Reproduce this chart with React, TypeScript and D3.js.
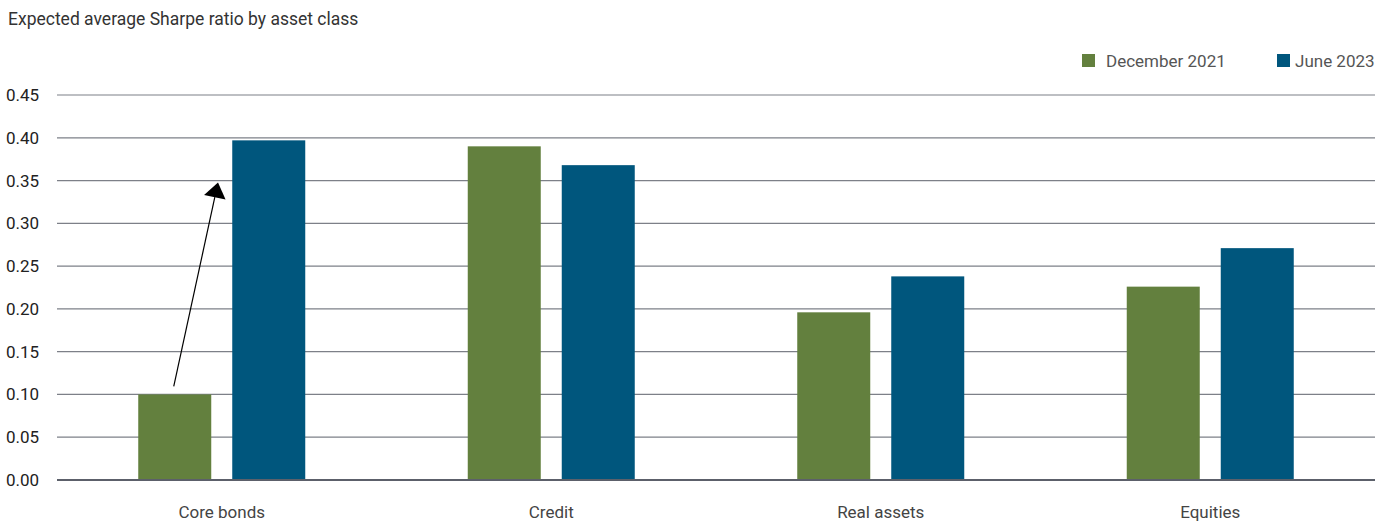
import React from "react";
import * as d3 from "d3";

const categories = ["Core bonds", "Credit", "Real assets", "Equities"];
const seriesNames = ["December 2021", "June 2023"];
const dec2021 = [0.1, 0.39, 0.196, 0.226];
const jun2023 = [0.397, 0.368, 0.238, 0.271];
const yTicks = [0, 0.05, 0.1, 0.15, 0.2, 0.25, 0.3, 0.35, 0.4, 0.45];
const colors = ["#63803e", "#00567d"];

const W = 1392;
const H = 524;
const FONT = "Roboto, 'Noto Sans', sans-serif";

export default function App() {
  const left = 57;
  const right = 1375;
  const x = d3.scaleBand<string>().domain(categories).range([left, right]).padding(0);
  const y = d3.scaleLinear().domain([0, 0.45]).range([480, 95]);
  const barW = 73;
  const gap = 21;
  const series = [dec2021, jun2023];

  // Arrow from top of Dec-2021 core bonds bar toward June 2023 bar
  const cx0 = x(categories[0])! + x.bandwidth() / 2;
  const ax1 = cx0 - gap / 2 - barW / 2 - 1;
  const ay1 = y(dec2021[0]) - 8;
  const ax2 = 218;
  const ay2 = y(0.35) + 2;
  const ang = Math.atan2(ay2 - ay1, ax2 - ax1);
  const hl = 15;
  const hw = 11;
  const bx = ax2 - hl * Math.cos(ang);
  const by = ay2 - hl * Math.sin(ang);
  const px = -Math.sin(ang);
  const py = Math.cos(ang);
  const headPath = `M${ax2},${ay2} L${bx + hw * px},${by + hw * py} L${bx - hw * px},${by - hw * py} Z`;

  const legendX = [1082, 1277];
  const legendTextX = [1106, 1295];

  return (
    <svg width={W} height={H} style={{ position: "absolute", left: 0, top: 0, background: "#fff" }}>
      <text x={8} y={25} fontFamily={FONT} fontSize={17.5} fill="#333">
        Expected average Sharpe ratio by asset class
      </text>
      {/* legend */}
      {seriesNames.map((n, i) => (
        <g key={n}>
          <rect x={legendX[i]} y={54} width={13} height={13} fill={colors[i]} />
          <text x={legendTextX[i]} y={67} fontFamily={FONT} fontSize={17} fill="#555">
            {n}
          </text>
        </g>
      ))}
      {/* gridlines */}
      {yTicks.map((t) => (
        <g key={t}>
          {t > 0 && <line x1={left} x2={right} y1={y(t)} y2={y(t)} stroke="#7d8088" strokeWidth={1.2} />}
          <text x={6} y={y(t) + 6} fontFamily={FONT} fontSize={17} fill="#222">
            {t.toFixed(2)}
          </text>
        </g>
      ))}
      {/* bars */}
      {categories.map((c, ci) => {
        const cx = x(c)! + x.bandwidth() / 2;
        return series.map((s, si) => {
          const rx = si === 0 ? cx - gap / 2 - barW : cx + gap / 2;
          return (
            <rect key={c + si} x={rx} y={y(s[ci])} width={barW} height={y(0) - y(s[ci])} fill={colors[si]} />
          );
        });
      })}
      {/* baseline */}
      <line x1={left} x2={right} y1={y(0)} y2={y(0)} stroke="#5c606a" strokeWidth={2} />
      {/* category labels */}
      {categories.map((c) => (
        <text
          key={c}
          x={x(c)! + x.bandwidth() / 2}
          y={518}
          textAnchor="middle"
          fontFamily={FONT}
          fontSize={17}
          fill="#444"
        >
          {c}
        </text>
      ))}
      {/* arrow */}
      <line x1={ax1} y1={ay1} x2={bx} y2={by} stroke="#000" strokeWidth={1.2} />
      <path d={headPath} fill="#000" />
    </svg>
  );
}
